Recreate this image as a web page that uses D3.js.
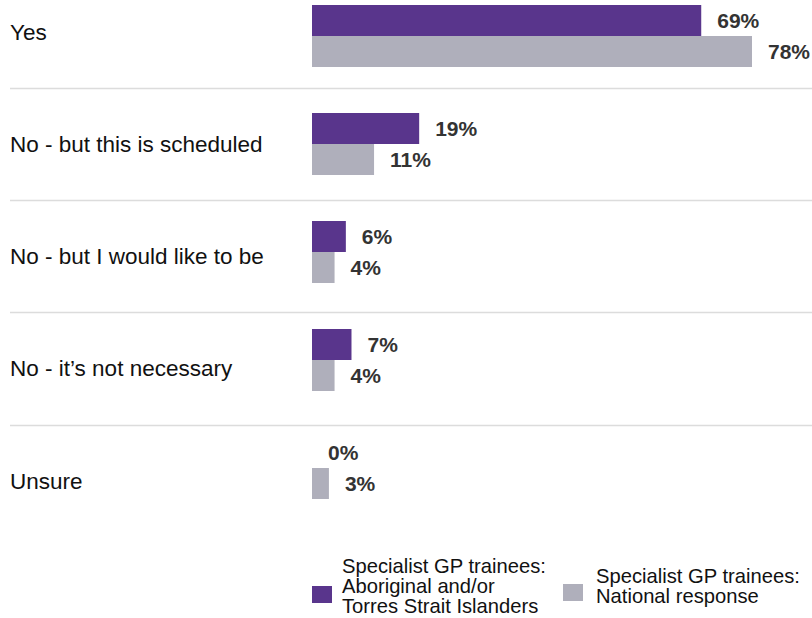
<!DOCTYPE html>
<html><head><meta charset="utf-8">
<script src="https://cdn.jsdelivr.net/npm/d3@7/dist/d3.min.js"></script>
<style>
html,body{margin:0;padding:0;background:#fff;}
svg{display:block;font-family:"Liberation Sans",Arial,sans-serif;}
</style></head>
<body>
<svg id="chart" width="812" height="618"></svg>
<script>
const categories = ["Yes", "No - but this is scheduled", "No - but I would like to be", "No - it\u2019s not necessary", "Unsure"];
const aboriginalValues = [69, 19, 6, 7, 0];
const nationalValues = [78, 11, 4, 4, 3];
const seriesNames = [["Specialist GP trainees:", "Aboriginal and/or", "Torres Strait Islanders"], ["Specialist GP trainees:", "National response"]];
const colors = ["#59358c", "#afafbb"];

const svg = d3.select("#chart");
const x = d3.scaleLinear().domain([0, 78]).range([312, 752]);
const rowY = d3.scaleBand().domain(categories).range([-24.5, 537]);
const barY = d3.scaleBand().domain(categories).range([-18, 522]);
const barH = 31;

// separators
svg.selectAll("line.sep").data(categories.slice(0, -1)).enter().append("line")
  .attr("x1", 10).attr("x2", 812)
  .attr("y1", d => Math.round(rowY(d) + rowY.step()) + 0.5)
  .attr("y2", d => Math.round(rowY(d) + rowY.step()) + 0.5)
  .attr("stroke", "#dcdcdc").attr("stroke-width", 1.5);

// category labels
svg.selectAll("text.cat").data(categories).enter().append("text")
  .attr("x", 10).attr("y", d => rowY(d) + rowY.bandwidth() / 2)
  .attr("dy", "0.35em").attr("font-size", 22.5).attr("fill", "#111")
  .text(d => d);

const series = [aboriginalValues, nationalValues];
series.forEach((vals, si) => {
  const g = svg.append("g");
  const data = categories.map((c, i) => ({c, v: vals[i]}));
  g.selectAll("rect").data(data).enter().append("rect")
    .attr("x", x(0))
    .attr("y", d => barY(d.c) + barY.bandwidth() / 2 - barH + si * barH)
    .attr("width", d => x(d.v) - x(0))
    .attr("height", barH)
    .attr("fill", colors[si]);
  g.selectAll("text").data(data).enter().append("text")
    .attr("x", d => x(d.v) + 16)
    .attr("y", d => barY(d.c) + barY.bandwidth() / 2 - barH / 2 + si * barH)
    .attr("dy", "0.36em")
    .attr("font-size", 21).attr("font-weight", "bold").attr("fill", "#333")
    .text(d => d.v + "%");
});

// legend
const legend = [
  {sx: 312, sy: 586, tx: 342, ty: 573},
  {sx: 563, sy: 584, tx: 596, ty: 583}
];
legend.forEach((L, i) => {
  svg.append("rect").attr("x", L.sx).attr("y", L.sy).attr("width", 20).attr("height", 17).attr("fill", colors[i]);
  const t = svg.append("text").attr("x", L.tx).attr("y", L.ty).attr("font-size", 20.2).attr("fill", "#111");
  seriesNames[i].forEach((s, j) => {
    t.append("tspan").attr("x", L.tx).attr("y", L.ty + j * 20).text(s);
  });
});
</script>
</body></html>
